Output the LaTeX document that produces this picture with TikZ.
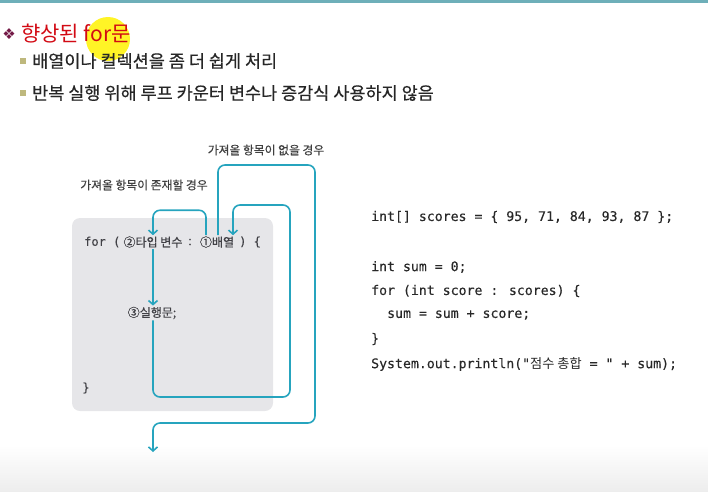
\documentclass[tikz,border=0pt]{standalone}
\usepackage{fontspec}
\setmainfont{Noto Sans CJK KR}
\newfontfamily\kr{Noto Sans CJK KR}
\newfontfamily\krheavy[FakeBold=0.4]{Noto Sans CJK KR}
\newfontfamily\codefont[FakeBold=0.3]{DejaVu Sans Mono}
\newfontfamily\symfont{DejaVu Sans}
\usetikzlibrary{arrows.meta,positioning}

\definecolor{flowcol}{RGB}{38,164,190}
\definecolor{boxgray}{RGB}{230,230,233}
\definecolor{titlered}{RGB}{210,10,20}
\definecolor{bulletkhaki}{RGB}{190,184,125}
\definecolor{diamondcol}{RGB}{115,25,70}
\definecolor{bandteal}{RGB}{110,175,185}
\definecolor{codetxt}{RGB}{40,40,40}
\definecolor{diagtxt}{RGB}{65,65,70}

\begin{document}
\begin{tikzpicture}
[
	x=1pt,y=-1pt,
	flow/.style={flowcol,line width=1.6pt,rounded corners=7pt,-{Straight Barb[length=4pt,width=9pt]}},
	diag/.style={inner sep=1pt,text=diagtxt,font=\krheavy\fontsize{12}{14}\selectfont},
	lbl/.style={inner sep=1pt,text=black!75,font=\krheavy\fontsize{11.8}{13}\selectfont},
	code/.style={anchor=west,inner sep=0pt,text=codetxt,font=\codefont\fontsize{13.2}{15}\selectfont},
	item/.style={anchor=west,inner sep=0pt,text=black!85,font=\krheavy\fontsize{17.5}{20}\selectfont},
	sqbullet/.style={fill=bulletkhaki,minimum size=6pt,inner sep=0pt}
]

	\useasboundingbox (0,0) rectangle (708,491);

	% band and bottom shade
	\fill[bandteal] (0,0) rectangle (708,3);
	\shade[top color=white,bottom color=black!7] (0,445) rectangle (708,491);

	% title with highlight
	\fill[yellow,opacity=0.85] (108,39) circle (22);
	\node[text=diamondcol,font=\symfont\fontsize{15}{15}\selectfont,inner sep=0pt] (dia) at (9,34) {❖};
	\node[anchor=west,inner sep=0pt,text=titlered,font=\fontsize{21}{24}\selectfont] (title) at (21,34) {향상된 for문};

	% bullets
	\node[sqbullet] (b1) at (23,61) {};
	\node[item] (item1) at (32,61) {배열이나 컬렉션을 좀 더 쉽게 처리};
	\node[sqbullet] (b2) at (23,93) {};
	\node[item] (item2) at (32,93) {반복 실행 위해 루프 카운터 변수나 증감식 사용하지 않음};

	% gray box
	\fill[boxgray,rounded corners=8pt] (72,218) rectangle (273,411);

	% for statement
	\node[diag,anchor=west] (forkw) at (83,242) {\codefont for (};
	\node[diag] (elemvar) at (153,242) {②타입 변수};
	\node[diag] (colon) at (190,242) {:};
	\node[diag] (arr) at (217,242) {①배열};
	\node[diag,anchor=west] (brc) at (238,242) {\codefont ) \{};
	\node[diag] (exec) at (152,313) {③실행문;};
	\node[diag] (endbrc) at (86,388) {\codefont \}};

	% labels
	\node[lbl] (haslbl) at (144,185) {가져올 항목이 존재할 경우};
	\node[lbl] (nonelbl) at (266,150) {가져올 항목이 없을 경우};

	\coordinate (exit) at (153,452);

	% flow arrows
	\draw[flow] ([xshift=-11pt]arr.north) -- ++(0,-25) -| (elemvar.north);
	\draw[flow] ([xshift=1pt]arr.north) |- (315,165) -- (315,423) -| (exit);
	\draw[flow] (elemvar.south) -- (elemvar.south |- exec.north);
	\draw[flow] (elemvar.south |- exec.south) |- (290,397) -- (290,205) -| ([xshift=16pt]arr.north);

	% code
	\node[code] (c1) at (371,217) {int[] scores = \{ 95, 71, 84, 93, 87 \};};
	\node[code] (c2) at (371,267) {int sum = 0;};
	\node[code] (c3) at (371,291) {for (int score : scores) \{};
	\node[code] (c4) at (387,315) {sum = sum + score;};
	\node[code] (c5) at (371,339) {\}};
	\node[code] (c6) at (371,364) {System.out.println("{\kr 점수 총합} = " + sum);};

\end{tikzpicture}
\end{document}
